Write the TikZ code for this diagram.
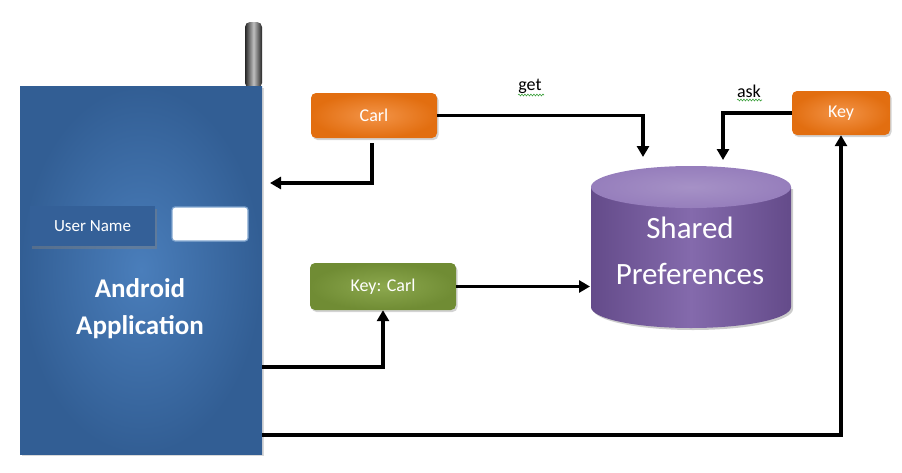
\documentclass[tikz,border=0pt]{standalone}
\usepackage{fontspec}
\setmainfont{Carlito}
\usetikzlibrary{arrows.meta,shadows,decorations.pathmorphing}
\definecolor{phin}{RGB}{74,126,187}
\definecolor{phout}{RGB}{50,94,148}
\definecolor{unbox}{RGB}{52,96,152}
\definecolor{orin}{RGB}{243,148,72}
\definecolor{orout}{RGB}{226,110,16}
\definecolor{grin}{RGB}{140,168,78}
\definecolor{grout}{RGB}{112,140,52}
\definecolor{pdark}{RGB}{100,75,138}
\definecolor{pmid}{RGB}{132,106,172}
\definecolor{ptop}{RGB}{150,126,188}
\definecolor{squig}{RGB}{60,160,60}
\begin{document}
\begin{tikzpicture}[x=1pt,y=-1pt,
  conn/.style={line width=3.2pt,-{Triangle[length=11pt,width=12pt]}},
  obox/.style={rounded corners=5pt, shading=radial, inner color=orin, outer color=orout,
     drop shadow={shadow xshift=1.5pt, shadow yshift=-2pt, opacity=0.35},
     text=white, font=\fontsize{18}{20}\selectfont},
  gbox/.style={rounded corners=5pt, shading=radial, inner color=grin, outer color=grout,
     drop shadow={shadow xshift=1.5pt, shadow yshift=-2pt, opacity=0.35},
     text=white, font=\fontsize{18}{20}\selectfont},
  lbl/.style={font=\fontsize{18}{20}\selectfont, text=black},
  squ/.style={squig, line width=0.6pt, decorate, decoration={snake, amplitude=0.9pt, segment length=3pt}}
]
\useasboundingbox (0,0) rectangle (902,472);
% antenna
\node[rounded corners=5pt, minimum width=17pt, minimum height=66pt, inner sep=0pt,
  shading=axis, left color=black!85, right color=black!85, middle color=black!25] (antenna) at (253.5,55) {};
% phone
\node[minimum width=242pt, minimum height=368pt, inner sep=0pt,
  shading=radial, inner color=phin, outer color=phout,
  drop shadow={shadow xshift=2pt, shadow yshift=-2pt, opacity=0.3}] (phone) at (141,270) {};
% user name label
\node[minimum width=125pt, minimum height=40pt, inner sep=0pt, fill=unbox,
  drop shadow={shadow xshift=2pt, shadow yshift=-2.5pt, opacity=0.45},
  text=white, font=\fontsize{17}{20}\selectfont] (uname) at (92.5,226) {User Name};
% input field
\node[minimum width=76pt, minimum height=34pt, inner sep=0pt, rounded corners=3pt,
  fill=white, draw=phin!70!white, line width=1.2pt] (field) at (210,224) {};
% app text
\node[text=white, font=\fontsize{27}{37}\selectfont\bfseries, align=center] (app) at (140,309) {Android\\Application};
% orange and green boxes
\node[obox, minimum width=126pt, minimum height=45pt, inner sep=0pt] (carl) at (374,115.5) {Carl};
\node[obox, minimum width=98pt, minimum height=44pt, inner sep=0pt] (key) at (841,113) {Key};
\node[gbox, minimum width=146pt, minimum height=47pt, inner sep=0pt] (keycarl) at (383,286.5) {Key: Carl};
% cylinder
\fill[black, opacity=0.2] (593,189) -- (593,309) arc[start angle=180, end angle=0, x radius=100, y radius=21]
  -- (793,189) -- cycle;
\shade[left color=pdark, right color=pdark, middle color=pmid]
  (591,187) -- (591,307) arc[start angle=180, end angle=0, x radius=100, y radius=21]
  -- (791,187) -- cycle;
\shade[inner color=ptop!85!white, outer color=ptop] (691,187) ellipse[x radius=100, y radius=21];
\node[text=white, font=\fontsize{31}{46}\selectfont, align=center] (sp) at (690,251) {Shared\\Preferences};
% labels
\node[lbl] (get) at (530,86) {get};
\node[lbl] (ask) at (749,91) {ask};
\draw[squ] (518,95) -- (544,95);
\draw[squ] (737,100) -- (762,100);
% connector coordinates
\coordinate (getin) at (643,157);
\coordinate (askin) at (723,160);
\coordinate (spleft) at (590,286.5);
\coordinate (carlout) at (372,143);
\coordinate (phonein) at (270,183);
\coordinate (phoneA) at (262,367);
\coordinate (phoneB) at (262,435);
% connectors
\draw[conn] (carl.east) -| (getin);
\draw[conn] (key.west) -| (askin);
\draw[conn] (carlout) |- (phonein);
\draw[conn] (keycarl.east) -- (spleft);
\draw[conn] (phoneA) -| (keycarl.south);
\draw[conn] (phoneB) -| (key.south);
\end{tikzpicture}
\end{document}
